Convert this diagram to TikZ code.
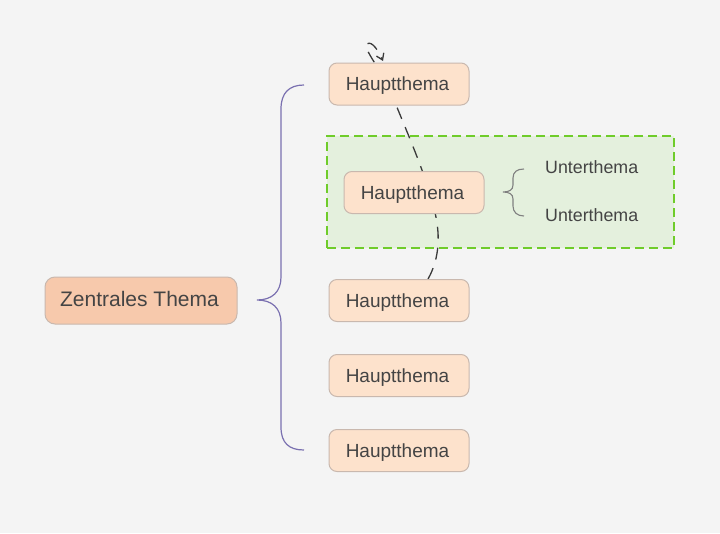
\documentclass[tikz,border=0pt]{standalone}
\usepackage{fontspec}
\setmainfont{Liberation Sans}
\usetikzlibrary{arrows.meta}
\definecolor{bg}{HTML}{F4F4F4}
\definecolor{txt}{HTML}{444444}
\definecolor{zfill}{HTML}{F7C9AC}
\definecolor{hfill}{HTML}{FDE2CC}
\definecolor{nborder}{HTML}{C9B8AE}
\definecolor{gfill}{HTML}{E4F0DD}
\definecolor{gborder}{HTML}{6FCC2A}
\definecolor{brace}{HTML}{7A70B0}
\definecolor{sbrace}{HTML}{808080}
\definecolor{curve}{HTML}{3A3A3A}
\begin{document}
\begin{tikzpicture}[x=1pt,y=-1pt,
  hbox/.style={draw=nborder,line width=1pt,fill=hfill,rounded corners=8pt,
    minimum width=140pt,minimum height=42pt,inner sep=0pt,text=txt,
    text height=16pt,text depth=2.4pt,
    font=\fontsize{19}{22}\selectfont},
  zbox/.style={hbox,fill=zfill,minimum width=192pt,minimum height=47pt,
    rounded corners=10pt,text height=15pt,text depth=2.4pt,
    font=\fontsize{21}{24}\selectfont},
  utext/.style={text=txt,inner sep=0pt,anchor=west,font=\fontsize{17.8}{21}\selectfont}]
\fill[bg] (0,0) rectangle (720,533);
\useasboundingbox (0,0) rectangle (720,533);
% group box
\node[draw=gborder,fill=gfill,line width=2.8pt,dash pattern=on 9pt off 5pt,
  minimum width=347pt,minimum height=112pt,inner sep=0pt] (grp) at (500.5,192) {};
% dashed curve (behind nodes)
\coordinate (cs) at (428,279);
\coordinate (ce) at (383,61);
\draw[curve,line width=1.3pt,dash pattern=on 12pt off 9pt,-{Straight Barb[length=6pt,width=8pt]}]
  (cs) .. controls (440,258) and (441,232) .. (433,205)
  .. controls (424,170) and (406,130) .. (392,95)
  .. controls (382,70) and (362,48) .. (367,44)
  .. controls (372,40) and (379,52) .. (ce);
% nodes
\node[zbox] (z) at (141,300.5) {\hspace*{-3pt}Zentrales Thema};
\node[hbox] (h1) at (399,84) {\hspace*{-3pt}Hauptthema};
\node[hbox] (h2) at (414,192.5) {\hspace*{-3pt}Hauptthema};
\node[hbox] (h3) at (399,300.5) {\hspace*{-3pt}Hauptthema};
\node[hbox] (h4) at (399,375.5) {\hspace*{-3pt}Hauptthema};
\node[hbox] (h5) at (399,450.5) {\hspace*{-3pt}Hauptthema};
\node[utext] (u1) at (545,167) {Unterthema};
\node[utext] (u2) at (545,215) {Unterthema};
% big brace
\draw[brace,line width=1.2pt]
  (304,85) .. controls (289,85) and (281,93) .. (281,109) -- (281,277)
  .. controls (281,292) and (272,300) .. (257,300)
  .. controls (272,300) and (281,308) .. (281,323) -- (281,427)
  .. controls (281,443) and (289,450) .. (304,450);
% small brace
\draw[sbrace,line width=1.1pt]
  (524,169) .. controls (517,169) and (513,172) .. (513,178) -- (513,185)
  .. controls (513,190) and (509,192) .. (503,192)
  .. controls (509,192) and (513,194) .. (513,199) -- (513,206)
  .. controls (513,212) and (517,216) .. (524,216);
\end{tikzpicture}
\end{document}
